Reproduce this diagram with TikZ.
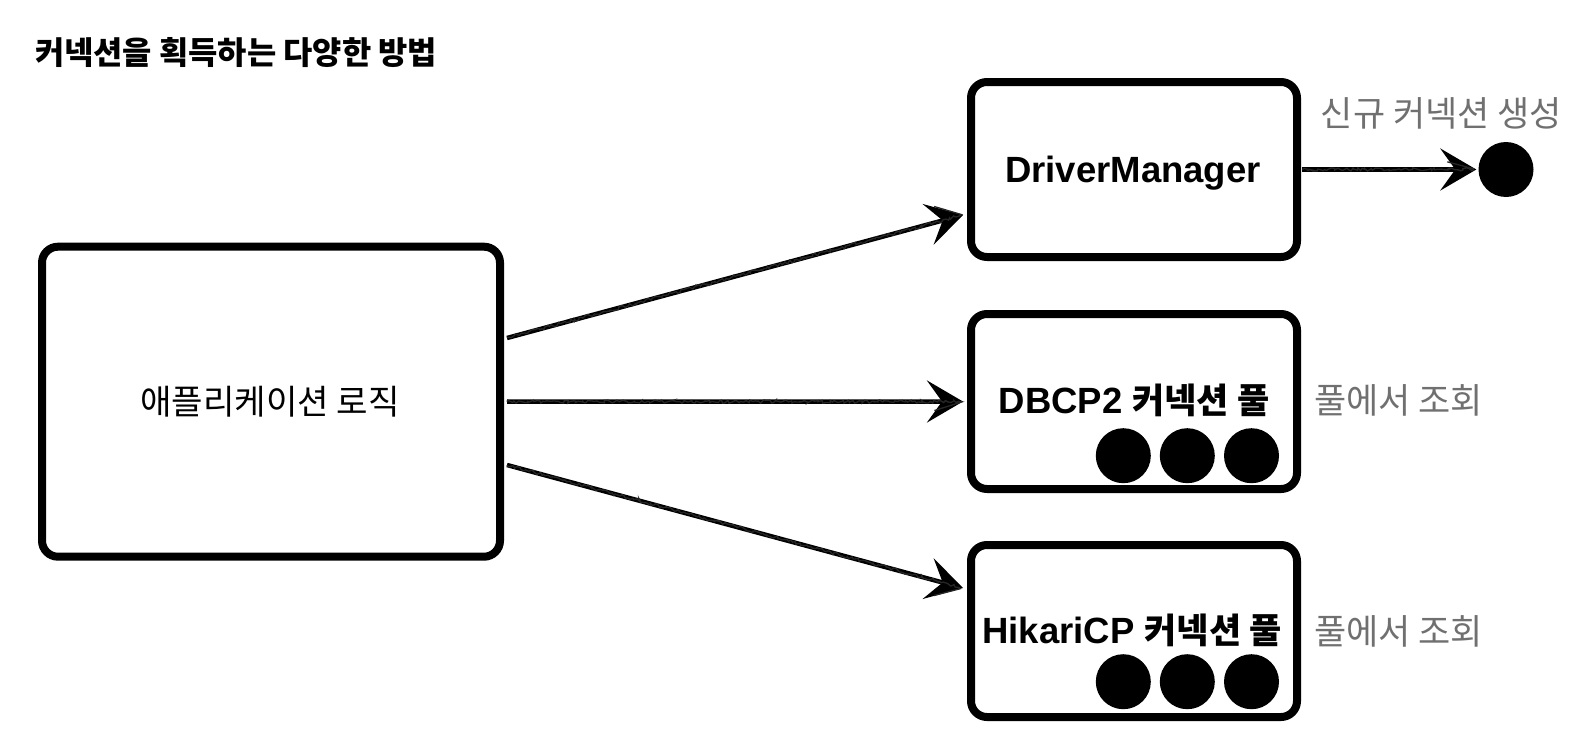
\documentclass[tikz,border=0pt]{standalone}
\usepackage{fontspec}
\setmainfont{Liberation Sans}
\newfontfamily\kr{Noto Sans CJK KR}
\usetikzlibrary{arrows.meta,calc,decorations.pathmorphing}

\definecolor{labelgray}{RGB}{112,112,112}
\pgfmathsetseed{7}

\tikzset{
  box/.style={draw=black, line width=8pt, rounded corners=16pt, fill=white,
              inner sep=0pt, outer sep=0pt},
  srcbox/.style={box, minimum width=458pt, minimum height=310pt},
  poolbox/.style={box, minimum width=326pt, minimum height=175pt},
  conn/.style={circle, fill=black, inner sep=0pt, minimum size=55pt},
  flow/.style={line width=4.5pt, -{Stealth[length=36pt, width=42pt, inset=15pt]}},
  % pencil grain along the shaft
  grain/.style={line width=1.3pt, black!85, shorten >=30pt,
                decorate, decoration={random steps, segment length=2pt, amplitude=1.6pt}},
  plain/.style={inner sep=0pt, outer sep=0pt},
  side/.style={plain, text=labelgray, font=\kr\fontsize{35}{40}\selectfont},
  boxlatin/.style={font=\bfseries\fontsize{36.5}{42}\selectfont},
}
\newcommand{\krb}[1]{{\kr\bfseries\fontsize{35}{40}\selectfont #1}}

\begin{document}
\begin{tikzpicture}[x=1pt, y=-1pt]
  \useasboundingbox (0,0) rectangle (1596,744);

  % heading
  \node[plain, anchor=west, font=\kr\bfseries\fontsize{31.8}{36}\selectfont] (title) at (35,53)
    {커넥션을 획득하는 다양한 방법};

  % application box
  \node[srcbox] (app) at (271,401.7) {};
  \node[plain, font=\kr\fontsize{34.2}{39}\selectfont] (applbl) at (270,401.5) {애플리케이션 로직};

  % connection sources
  \node[poolbox] (dm) at (1134,169.5) {};
  \node[poolbox] (db) at (1134,401.5) {};
  \node[poolbox, minimum height=172pt] (hk) at (1134,631) {};

  \node[plain, anchor=base, boxlatin] (dmlbl) at (1133,182.7) {DriverManager};
  \node[plain, anchor=base, boxlatin] (dblbl) at (1134,413) {DBCP2 \krb{커넥션 풀}};
  \node[plain, anchor=base, boxlatin] (hklbl) at (1132,643.3) {HikariCP \krb{커넥션 풀}};

  % pooled connections
  \node[conn] (db1) at (1123.3,455.7) {};
  \node[conn] (db2) at (1187.3,455.7) {};
  \node[conn] (db3) at (1251.5,455.7) {};
  \node[conn] (hk1) at (1123.3,681.7) {};
  \node[conn] (hk2) at (1187.3,681.7) {};
  \node[conn] (hk3) at (1251.5,681.7) {};

  % newly created connection
  \node[conn] (fresh) at (1506,169.5) {};

  % side notes
  \node[side] (newlbl) at (1441.5,113) {신규 커넥션 생성};
  \node[side] (dbnote) at (1398.5,400) {풀에서 조회};
  \node[side] (hknote) at (1398.5,631.5) {풀에서 조회};

  % arrow end points
  \coordinate (a1) at ($(app.east)+(7,-63.7)$);
  \coordinate (b1) at ($(dm.west)+(-8,45.5)$);
  \coordinate (a2) at ($(app.east)+(7,0)$);
  \coordinate (b2) at ($(db.west)+(-8,0)$);
  \coordinate (a3) at ($(app.east)+(7,63.3)$);
  \coordinate (b3) at ($(hk.west)+(-8,-43)$);
  \coordinate (a4) at ($(dm.east)+(5,0)$);
  \coordinate (b4) at ($(fresh.west)+(-2,0)$);

  % arrows
  \foreach \s/\t in {a1/b1, a2/b2, a3/b3, a4/b4} {
    \draw[flow] (\s) -- (\t);
    \draw[grain] (\s) -- (\t);
  }
\end{tikzpicture}
\end{document}
